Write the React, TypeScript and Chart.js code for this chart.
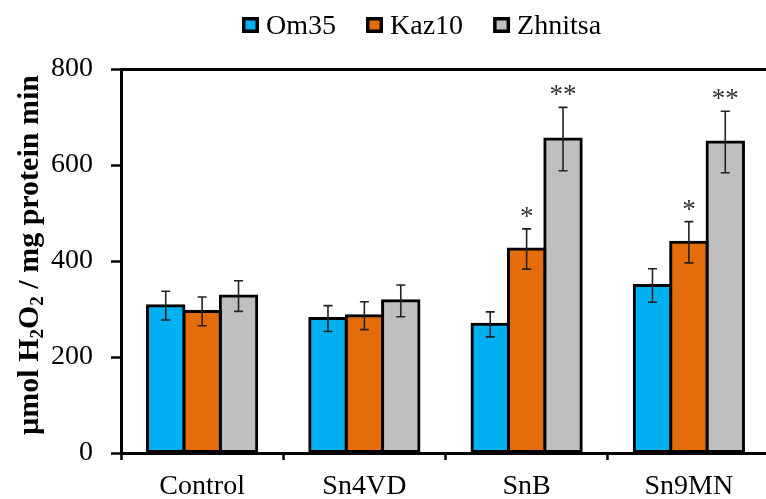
import React, { useEffect, useRef } from 'react';
import { Chart, registerables } from 'chart.js';
Chart.register(...registerables);

const categories = ['Control', 'Sn4VD', 'SnB', 'Sn9MN'];
const seriesNames = ['Om35', 'Kaz10', 'Zhnitsa'];
const om35 = [307, 280, 268, 349];
const kaz10 = [295, 286, 425, 439];
const zhnitsa = [327, 317, 654, 648];
const om35Err = [30, 27, 26, 35];
const kaz10Err = [30, 29, 42, 43];
const zhnitsaErr = [32, 33, 66, 64];
const om35Marks = ['', '', '', ''];
const kaz10Marks = ['', '', '*', '*'];
const zhnitsaMarks = ['', '', '**', '**'];
const yMin = 0;
const yMax = 800;
const yStep = 200;
const colors = ['#00B0F0', '#E46C0A', '#BFBFBF'];

const FONT = '"Liberation Serif", "Times New Roman", serif';

const overlay = {
  id: 'overlay',
  afterDatasetsDraw(chart: any) {
    const ctx = chart.ctx;
    const y = chart.scales.y;
    chart.data.datasets.forEach((ds: any, di: number) => {
      const meta = chart.getDatasetMeta(di);
      meta.data.forEach((bar: any, i: number) => {
        const v = ds.data[i];
        const e = ds.errors[i];
        const x = bar.x;
        const yt = y.getPixelForValue(v + e);
        const yb = y.getPixelForValue(v - e);
        ctx.save();
        ctx.strokeStyle = '#222';
        ctx.lineWidth = 1.6;
        ctx.beginPath();
        ctx.moveTo(x, yt);
        ctx.lineTo(x, yb);
        ctx.moveTo(x - 4.5, yt);
        ctx.lineTo(x + 4.5, yt);
        ctx.moveTo(x - 4.5, yb);
        ctx.lineTo(x + 4.5, yb);
        ctx.stroke();
        const m = ds.marks[i];
        if (m) {
          ctx.font = '27px ' + FONT;
          ctx.fillStyle = '#333';
          ctx.textAlign = 'center';
          ctx.textBaseline = 'alphabetic';
          ctx.fillText(m, x, yt - 4);
        }
        ctx.restore();
      });
    });
  },
  afterDraw(chart: any) {
    const ctx = chart.ctx;
    ctx.save();
    // legend
    ctx.font = '28px ' + FONT;
    ctx.textBaseline = 'alphabetic';
    ctx.textAlign = 'left';
    let lx = 242;
    chart.data.datasets.forEach((ds: any) => {
      ctx.fillStyle = '#000';
      ctx.fillRect(lx, 17, 17, 16);
      ctx.fillStyle = ds.backgroundColor;
      ctx.fillRect(lx + 3.5, 20.5, 10, 9);
      ctx.fillStyle = '#000';
      ctx.fillText(ds.label, lx + 24, 34);
      lx += 24 + ctx.measureText(ds.label).width + 30;
    });
    // y title
    const bigFont = 'bold 30px ' + FONT;
    const subFont = 'bold 19px ' + FONT;
    const parts: [string, boolean][] = [
      ['\u00B5mol H', false],
      ['2', true],
      ['O', false],
      ['2', true],
      [' / mg protein min', false],
    ];
    let total = 0;
    parts.forEach(([t, s]) => {
      ctx.font = s ? subFont : bigFont;
      total += ctx.measureText(t).width;
    });
    const cy = (chart.chartArea.top + chart.chartArea.bottom) / 2 - 6;
    ctx.translate(38, cy);
    ctx.rotate(-Math.PI / 2);
    let tx = -total / 2;
    ctx.fillStyle = '#000';
    parts.forEach(([t, s]) => {
      ctx.font = s ? subFont : bigFont;
      ctx.fillText(t, tx, s ? 5 : 0);
      tx += ctx.measureText(t).width;
    });
    ctx.restore();
  },
};

export default function App() {
  const ref = useRef<HTMLCanvasElement | null>(null);
  useEffect(() => {
    if (!ref.current) return;
    const mk = (label: string, data: number[], errors: number[], marks: string[], color: string) => ({
      label,
      data,
      errors,
      marks,
      backgroundColor: color,
      borderColor: '#000',
      borderWidth: 3,
      borderSkipped: false,
      inflateAmount: 1.5,
      categoryPercentage: 0.673,
      barPercentage: 1,
    });
    const chart = new Chart(ref.current, {
      type: 'bar',
      data: {
        labels: categories,
        datasets: [
          mk(seriesNames[0], om35, om35Err, om35Marks, colors[0]),
          mk(seriesNames[1], kaz10, kaz10Err, kaz10Marks, colors[1]),
          mk(seriesNames[2], zhnitsa, zhnitsaErr, zhnitsaMarks, colors[2]),
        ] as any,
      },
      options: {
        responsive: false,
        animation: false,
        devicePixelRatio: 1,
        layout: { padding: { top: 69, left: 0, right: 0, bottom: 0 } },
        plugins: { legend: { display: false }, tooltip: { enabled: false } },
        scales: {
          x: {
            afterFit: (s: any) => { s.height = 46; },
            grid: {
              offset: true,
              drawOnChartArea: false,
              drawTicks: true,
              tickLength: 7,
              tickColor: '#000',
              tickWidth: 2.5,
            },
            border: { display: true, color: '#000', width: 3 },
            ticks: { color: '#000', font: { family: FONT, size: 28 }, padding: 10, maxRotation: 0 },
          },
          y: {
            min: yMin,
            max: yMax,
            afterFit: (s: any) => { s.width = 121; },
            grid: {
              color: (c: any) => (c.tick && c.tick.value === yMax ? '#000' : 'rgba(0,0,0,0)'),
              lineWidth: 3,
              tickColor: '#000',
              tickLength: 10,
              tickWidth: 2.5,
            },
            border: { display: true, color: '#000', width: 3 },
            ticks: { stepSize: yStep, color: '#000', font: { family: FONT, size: 28 }, padding: 18 },
          },
        },
      } as any,
      plugins: [overlay],
    });
    return () => chart.destroy();
  }, []);
  return (
    <div style={{ position: 'absolute', left: 0, top: 0, width: 766, height: 499, overflow: 'hidden', background: '#fff' }}>
      <canvas ref={ref} width={770} height={499} style={{ display: 'block' }} />
    </div>
  );
}
